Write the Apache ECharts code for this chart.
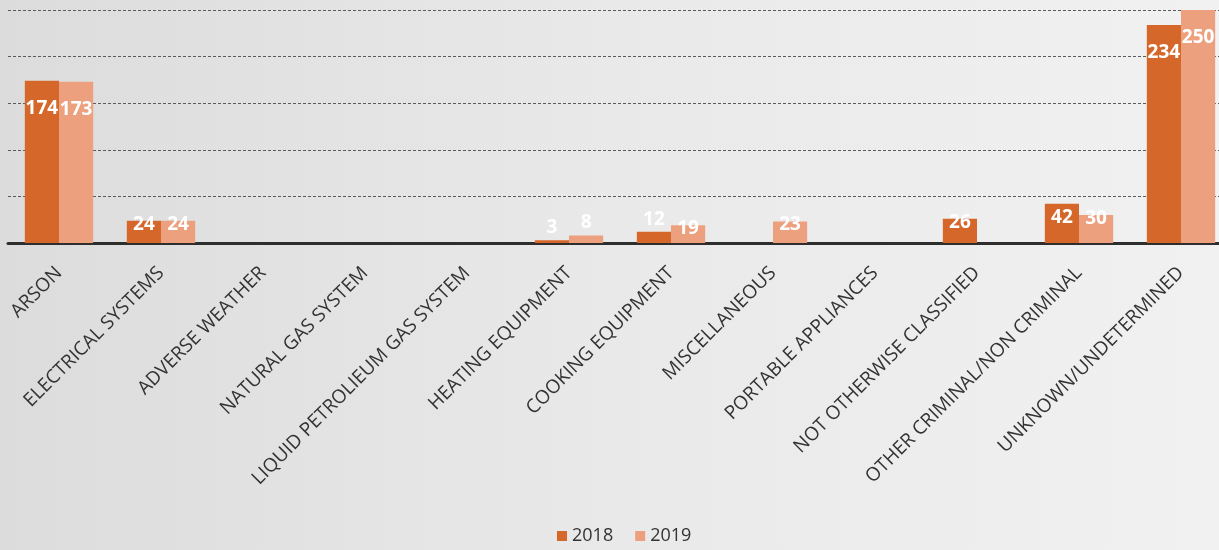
<!DOCTYPE html>
<html>
<head>
<meta charset="utf-8">
<script src="https://cdn.jsdelivr.net/npm/echarts@6/dist/echarts.min.js"></script>
<style>
html,body{margin:0;padding:0;}
#chart{width:1219px;height:550px;}
</style>
</head>
<body>
<div id="chart"></div>
<script>
const categories = ["ARSON","ELECTRICAL SYSTEMS","ADVERSE WEATHER","NATURAL GAS SYSTEM","LIQUID PETROLIEUM GAS SYSTEM","HEATING EQUIPMENT","COOKING EQUIPMENT","MISCELLANEOUS","PORTABLE APPLIANCES","NOT OTHERWISE CLASSIFIED","OTHER CRIMINAL/NON CRIMINAL","UNKNOWN/UNDETERMINED"];
const seriesNames = ["2018","2019"];
const values2018 = [174,24,0,0,0,3,12,0,0,26,42,234];
const values2019 = [173,24,0,0,0,8,19,23,0,0,30,250];
const yTicks = [0,50,100,150,200,250];

const baseLabel = {
  show: true,
  color: '#ffffff',
  fontSize: 19,
  fontWeight: 'bold',
  fontFamily: 'Open Sans',
  formatter: p => p.value ? String(p.value) : ''
};
function labelFor(v) {
  if (v >= 100) return {position: 'insideTop', distance: 18};
  if (v >= 35) return {position: 'insideTop', distance: 4};
  if (v >= 15) return {position: 'top', distance: -13};
  return {position: 'top', distance: 3};
}
function toItems(arr) {
  return arr.map(v => ({value: v, label: labelFor(v)}));
}

const chart = echarts.init(document.getElementById('chart'));
chart.setOption({
  backgroundColor: {
    type: 'linear', x: 0, y: 0, x2: 1, y2: 0,
    colorStops: [{offset: 0, color: '#dcdcdc'}, {offset: 0.5, color: '#e9e9e9'}, {offset: 1, color: '#f1f1f1'}]
  },
  animation: false,
  grid: {left: 8, width: 1224, top: 10, bottom: 307, containLabel: false, outerBoundsMode: 'none'},
  legend: {
    bottom: 0, left: 552,
    itemWidth: 10, itemHeight: 10, itemGap: 22,
    icon: 'rect',
    textStyle: {fontSize: 18, color: '#333', fontFamily: 'Open Sans'},
    data: seriesNames
  },
  xAxis: {
    type: 'category',
    data: categories,
    axisLine: {show: true, lineStyle: {color: '#2e2e2e', width: 3}},
    axisTick: {show: false},
    axisLabel: {rotate: 45, interval: 0, fontSize: 19, color: '#333', fontFamily: 'Open Sans', margin: 27}
  },
  yAxis: {
    type: 'value',
    min: yTicks[0], max: yTicks[yTicks.length - 1], interval: 50,
    axisLabel: {show: false},
    axisLine: {show: false},
    axisTick: {show: false},
    splitLine: {show: true, lineStyle: {color: '#5a5a5a', type: [3, 2], width: 1}}
  },
  series: [
    {name: seriesNames[0], type: 'bar', data: toItems(values2018), barGap: '0%', barCategoryGap: '33%',
     itemStyle: {color: '#d6672a'}, label: baseLabel},
    {name: seriesNames[1], type: 'bar', data: toItems(values2019),
     itemStyle: {color: '#eca07e'}, label: baseLabel}
  ]
});
</script>
</body>
</html>
